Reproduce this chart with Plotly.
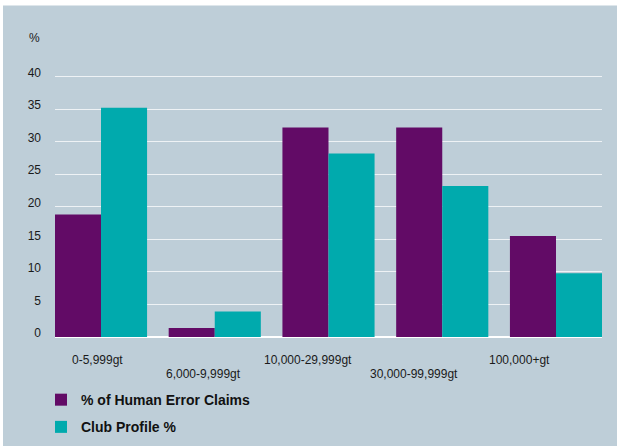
import plotly.graph_objects as go

categories = ["0-5,999gt", "6,000-9,999gt", "10,000-29,999gt", "30,000-99,999gt", "100,000+gt"]
human_error = [18.8, 1.4, 32.2, 32.2, 15.5]
club_profile = [35.2, 3.9, 28.2, 23.2, 9.8]
y_ticks = [0, 5, 10, 15, 20, 25, 30, 35, 40]

PURPLE = "#620B66"
TEAL = "#00AAAD"
PANEL = "#BECED8"
FONT = "Liberation Sans, Arial, sans-serif"

L, R, T, B = 55, 15, 74.4, 109
W, H = 617, 446
pw, ph = W - L - R, H - T - B

def px_x(p):
    return (p - L) / pw

def px_y(p):
    return (H - B - p) / ph

xs = list(range(len(categories)))

fig = go.Figure()
fig.add_trace(go.Bar(x=xs, y=human_error, name="% of Human Error Claims",
                     marker=dict(color=PURPLE, line=dict(width=0)), legendgroup="a"))
fig.add_trace(go.Bar(x=xs, y=club_profile, name="Club Profile %",
                     marker=dict(color=TEAL, line=dict(width=0)), legendgroup="b"))

# background panel
fig.add_shape(type="rect", xref="paper", yref="paper",
              x0=px_x(3), x1=px_x(W + 2), y0=px_y(H + 2), y1=px_y(6),
              fillcolor=PANEL, line=dict(width=0), layer="below")

# staggered category labels
label_px = [97.5, 203, 308, 413.5, 519]
label_py = [360, 374, 360, 374, 360]
step = 113.75
for lab, lx, ly in zip(categories, label_px, label_py):
    fig.add_annotation(x=(lx - (L + 46)) / step, xref="x", y=px_y(ly), yref="paper",
                       text=lab, showarrow=False, xanchor="center", yanchor="middle",
                       font=dict(family=FONT, size=12, color="#1a1a1a"))

fig.add_annotation(x=px_x(34.5), xref="paper", y=px_y(38), yref="paper", text="%",
                   showarrow=False, xanchor="center", yanchor="middle",
                   font=dict(family=FONT, size=12, color="#1a1a1a"))

fig.update_layout(
    width=W, height=H,
    margin=dict(l=L, r=R, t=T, b=B, pad=0, autoexpand=False),
    paper_bgcolor="white", plot_bgcolor=PANEL,
    barmode="group", bargap=0.19, bargroupgap=0,
    font=dict(family=FONT, size=12, color="#1a1a1a"),
    xaxis=dict(range=[-46 / step, 4 + 46 / step], showticklabels=False, showgrid=False,
               zeroline=False, showline=False, ticks="", fixedrange=True),
    yaxis=dict(range=[0, 40.4], tickvals=y_ticks, showgrid=True, gridcolor="#EEF2F5",
               gridwidth=1, zeroline=True, zerolinecolor="white", zerolinewidth=1.5,
               showline=False, ticks="", ticklabelstandoff=13, ticklabelshift=-4,
               fixedrange=True,
               tickfont=dict(family=FONT, size=12, color="#1a1a1a")),
    showlegend=True,
    legend=dict(x=px_x(41), xanchor="left", y=px_y(384), yanchor="top",
                orientation="v", bgcolor="rgba(0,0,0,0)", tracegroupgap=6,
                font=dict(family=FONT, size=14, color="#111111", weight="bold"),
                itemwidth=30, traceorder="grouped"),
)

fig.write_html("out.html", config={"displayModeBar": False},
               post_script="document.body.style.margin='0';")
